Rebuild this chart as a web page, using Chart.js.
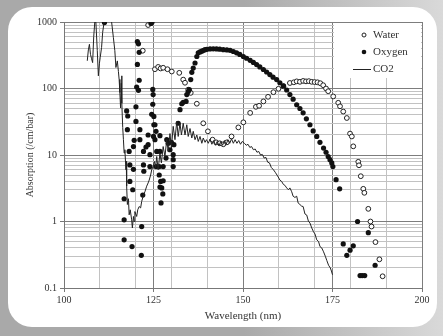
<!DOCTYPE html>
<html>
<head>
<meta charset="utf-8">
<script src="https://cdn.jsdelivr.net/npm/chart.js@4/dist/chart.umd.min.js"></script>
<style>
  body { margin: 0; width: 443px; height: 336px; overflow: hidden;
         background: linear-gradient(to right, #a9a9a9 55%, #d9d9d9 100%); }
  #panel { position: absolute; left: 8px; top: 7px; width: 429px; height: 320px;
           background: #fff; border-radius: 24px; }
  #chart { position: absolute; left: 0; top: 0; }
</style>
</head>
<body>
<div id="panel"></div>
<canvas id="chart" width="443" height="336"></canvas>
<script>
// tick positions
const xTicks = [100, 110, 120, 125, 130, 140, 150, 160, 170, 175, 180, 190, 200];
const yTicks = [0.1, 0.2, 0.3, 0.4, 0.5, 0.6, 0.7, 0.8, 0.9,
  1, 2, 3, 4, 5, 6, 7, 8, 9,
  10, 20, 30, 40, 50, 60, 70, 80, 90,
  100, 200, 300, 400, 500, 600, 700, 800, 900, 1000];
const yTickLabels = { 0.1: "0.1", 1: "1", 10: "10", 100: "100", 1000: "1000" };

// Water (open circles)
const waterX = [122.0, 123.5, 125.4, 126.3, 127.0, 127.7, 128.9, 130.1, 132.2, 133.3, 133.8, 134.7, 135.4,
  137.1, 138.9, 140.2, 141.5, 142.5, 143.5, 144.5, 145.5, 146.8, 148.7, 150.1, 152.0, 153.6, 154.5,
  155.7, 157.0, 158.5, 159.9, 161.3, 163.1, 164.2, 165.0, 165.9, 166.8, 167.6, 168.4, 169.2, 170.0,
  170.8, 171.6, 172.4, 173.2, 173.8, 175.2, 176.6, 177.1, 178.0, 179.0, 179.9, 180.4, 180.8, 182.2,
  182.4, 182.9, 183.6, 183.9, 185.0, 185.6, 185.9, 187.0, 188.1, 189.0];
const waterY = [370, 900, 195, 211, 200, 205, 195, 180, 172, 136, 122, 96, 86,
  59, 30, 22.7, 17, 15.5, 15, 14.5, 15.5, 19, 26, 31, 43, 53, 55,
  64, 75, 88, 99, 108, 121, 124, 128, 126, 130, 128, 129, 126, 125,
  124, 120, 112, 100, 91, 76, 61, 54, 45, 36, 21, 19, 13.5, 7.9,
  7.0, 4.8, 3.1, 2.7, 1.55, 1.0, 0.84, 0.49, 0.27, 0.15];

// Oxygen (filled dots)
const oxygenX = [111.3, 116.8, 116.8, 116.8, 117.5, 117.7, 117.8, 118.2, 118.4, 118.4, 119.0, 119.2,
  119.4, 119.4, 119.6, 120.1, 120.1, 120.3, 120.5, 120.5, 120.8, 120.8, 121.0, 121.0, 121.2, 121.2,
  121.6, 121.7, 122.0, 122.2, 122.2, 122.3, 122.9, 123.5, 123.5, 124.0, 124.0, 124.3, 124.5, 124.6,
  124.8, 124.8, 124.9, 125.0, 125.1, 125.1, 125.4, 125.4, 125.7, 125.7, 125.9, 126.6, 126.6, 126.8,
  126.8, 126.8, 127.0, 127.1, 127.3, 127.6, 127.7, 127.7, 128.5, 128.7, 129.1, 129.6, 130.0, 130.5,
  130.5, 130.5, 130.7, 131.9, 132.4, 132.9, 133.3, 134.1, 134.3, 134.7, 135.0, 135.4, 135.7, 136.1,
  136.6, 137.1, 137.5, 138.0, 138.5, 139.0, 139.4, 139.9, 140.8, 141.7, 142.6, 143.5, 144.5, 145.5,
  146.4, 147.3, 148.2, 149.1, 150.1, 151.0, 152.0, 152.9, 153.8, 154.7, 155.7, 156.6, 157.5, 158.4,
  159.4, 160.3, 161.3, 162.2, 163.1, 164.0, 165.0, 165.9, 166.8, 167.7, 168.7, 169.6, 170.6, 171.5,
  172.5, 173.2, 173.8, 174.3, 174.8, 175.1, 176.0, 177.0,
  178.0, 179.0, 179.9, 180.8, 182.0, 182.7, 183.3, 184.0, 185.0, 186.9];
const oxygenY = [980, 2.2, 1.06, 0.53, 46, 24, 38.6, 11.3, 7.1, 4.0, 0.42, 3.0,
  13.4, 6.1, 16.6, 53, 32, 105, 508, 230, 470, 94, 350, 133, 24, 17,
  0.31, 0.84, 2.5, 11.3, 7.1, 5.7, 13.2, 20, 14.3, 10.1, 6.7, 950, 41, 1000,
  97, 58, 81, 19, 38, 28.5, 17, 28.5, 22.7, 6.7, 11.3, 6.7, 5.0, 19.5,
  11.3, 3.3, 4.0, 1.9, 3.2, 2.6, 6.7, 4.1, 9, 17, 15, 12, 15.5, 10.1,
  8.5, 6.7, 14.3, 30, 48, 59, 62, 64, 81, 90, 96, 136, 175, 203,
  242, 303, 344, 355, 364, 375, 384, 388, 393, 395, 393, 390, 384, 380,
  375, 360, 344, 325, 303, 285, 265, 247, 229, 211, 193, 177, 162, 148,
  136, 122, 110, 95, 81, 69, 57, 50, 43, 35, 28.5, 23, 19, 15.5,
  12.7, 11, 9.5, 8.5, 7.6, 6.7, 4.25, 3.1,
  0.46, 0.31, 0.37, 0.43, 1.0, 0.154, 0.154, 0.154, 0.68, 0.22];

// CO2 (line)
const co2X = [106.5, 106.8, 107.1, 107.4, 107.7, 108.0, 108.3, 108.6, 108.9, 109.3, 109.6, 109.9, 110.1,
  110.5, 110.8, 111.2, 111.8, 112.5, 113.3, 113.8, 114.2, 114.5, 114.9, 115.2, 115.4, 115.6, 115.8,
  116.0, 116.1, 116.2, 116.4, 116.6, 116.8, 117.0, 117.3, 117.4, 117.5, 117.7, 118.0, 118.2, 118.5,
  118.9, 119.1, 119.4, 119.6, 119.8, 120.3, 120.6, 121.0, 121.4, 121.7, 122.2, 122.6, 123.1, 123.5,
  123.8, 124.2, 124.5, 124.9, 125.3, 125.6, 125.9, 126.3, 126.8, 127.2, 127.7, 128.2, 128.7, 129.1,
  129.6, 130.0, 130.5, 131.0, 131.5, 131.9, 132.4, 132.8, 133.3, 133.8, 134.3, 134.7, 135.2, 135.7,
  136.1, 136.6, 137.1, 137.5, 138.0, 138.5, 138.9, 139.4, 139.8, 140.3, 140.8, 141.3, 141.8, 142.3,
  142.8, 143.3, 143.8, 144.3, 144.8, 145.3, 145.8, 146.3, 146.8, 147.3, 147.8, 148.3, 148.8, 149.3,
  149.8, 150.4, 150.9, 151.4, 151.9, 152.4, 152.9, 153.4, 153.9, 154.4, 154.9, 155.4, 155.9, 156.4,
  156.9, 157.4, 157.9, 158.5, 159.0, 159.5, 160.0, 160.3, 160.8, 161.3, 161.7, 162.2, 162.7, 163.1,
  163.6, 164.0, 164.5, 165.0, 165.4, 165.9, 166.4, 166.8, 167.3, 167.8, 168.3, 168.7, 169.2, 169.7,
  170.1, 170.6, 171.1, 171.5, 172.0, 172.5, 173.0, 173.4, 173.9, 174.4, 174.7, 175.0];
const co2Y = [261, 380, 462, 326, 280, 245, 600, 1000, 1000, 370, 155, 240, 290,
  415, 700, 1000, 1500, 1400, 1000, 580, 370, 207, 260, 180, 137, 87, 51,
  120, 155, 60, 26, 17, 10.7, 12, 6, 8, 3.4, 1.8, 2.2, 1.26, 1.5,
  1.06, 0.8, 1.19, 1.0, 1.41, 1.19, 1.5, 1.68, 1.6, 2.0, 2.5, 2.8, 3.4, 3.8,
  4.2, 5.0, 6.0, 6.7, 8, 6.5, 9.5, 6, 10.7, 7.6, 13.4, 9.5, 17, 11.3,
  21, 12.7, 27, 17, 32, 19, 30, 20, 30, 20, 28.5, 19, 25, 18,
  22.7, 17, 20, 16, 19, 15, 18, 15.5, 17, 15, 17.4, 14.5, 16.5, 14,
  16, 13.8, 16, 14, 16.5, 14.5, 17, 15, 17.5, 15, 17, 15, 16.5, 14.5,
  16, 15, 14, 14.5, 13, 13.4, 12, 12.3, 11, 11.3, 10, 10.2, 9, 9.2,
  7.8, 7.6, 6.5, 6.0, 5.5, 5.0, 4.5, 4.2, 4.0, 3.6, 3.5, 3.2, 3.0, 3.2,
  2.8, 2.4, 2.3, 2.4, 1.9, 1.8, 1.7, 1.68, 1.3, 1.25, 1.0, 0.95, 0.8, 0.7,
  0.65, 0.53, 0.5, 0.42, 0.4, 0.35, 0.3, 0.26, 0.22, 0.2, 0.18, 0.158];

const toPoints = (xs, ys) => xs.map((x, i) => ({ x: x, y: ys[i] }));
const serif = "'Liberation Serif', 'DejaVu Serif', serif";
const textColor = "#333";
const majorGrid = "#7d7d7d";
const minorGrid = "#c2c2c2";

// legend in the upper right corner, drawn over the grid
const legendBox = {
  id: "legendBox",
  beforeDatasetsDraw(chart) {
    const { ctx, chartArea } = chart;
    const x0 = chartArea.right - 88, y0 = chartArea.top + 1;
    ctx.save();
    ctx.fillStyle = "#fff";
    ctx.fillRect(x0, y0, 87, 55);
    ctx.font = "11px " + serif;
    ctx.fillStyle = textColor;
    ctx.textBaseline = "middle";
    ctx.fillText("Water", x0 + 39, y0 + 12);
    ctx.fillText("Oxygen", x0 + 39, y0 + 29);
    ctx.fillText("CO2", x0 + 39, y0 + 46);
    ctx.strokeStyle = "#222";
    ctx.lineWidth = 1;
    ctx.beginPath();
    ctx.arc(x0 + 30, y0 + 12, 2, 0, Math.PI * 2);
    ctx.stroke();
    ctx.fillStyle = "#111";
    ctx.beginPath();
    ctx.arc(x0 + 30, y0 + 29, 2.3, 0, Math.PI * 2);
    ctx.fill();
    ctx.beginPath();
    ctx.moveTo(x0 + 19, y0 + 46.5);
    ctx.lineTo(x0 + 37, y0 + 46.5);
    ctx.stroke();
    ctx.restore();
  }
};

new Chart(document.getElementById("chart"), {
  type: "scatter",
  data: {
    datasets: [
      {
        label: "CO2",
        data: toPoints(co2X, co2Y),
        showLine: true,
        borderColor: "#222",
        borderWidth: 1,
        pointRadius: 0,
        tension: 0
      },
      {
        label: "Oxygen",
        data: toPoints(oxygenX, oxygenY),
        pointRadius: 2.6,
        pointBackgroundColor: "#111",
        pointBorderColor: "#111",
        pointBorderWidth: 0
      },
      {
        label: "Water",
        data: toPoints(waterX, waterY),
        pointRadius: 2.4,
        pointBackgroundColor: "#fff",
        pointBorderColor: "#222",
        pointBorderWidth: 1
      }
    ]
  },
  options: {
    responsive: false,
    animation: false,
    layout: { padding: { top: 22, right: 21, left: 0, bottom: 0 } },
    plugins: { legend: { display: false }, tooltip: { enabled: false } },
    scales: {
      x: {
        type: "linear",
        min: 100,
        max: 200,
        afterBuildTicks: s => { s.ticks = xTicks.map(v => ({ value: v })); },
        afterFit: s => { s.height = 48; },
        ticks: {
          autoSkip: false,
          maxRotation: 0,
          padding: 2,
          color: textColor,
          font: { family: serif, size: 10 },
          callback: v => (v % 25 === 0 ? String(v) : "")
        },
        grid: {
          color: c => (c.tick && c.tick.value % 25 === 0 ? majorGrid : minorGrid),
          tickColor: c => (c.tick && c.tick.value % 25 === 0 ? "#777" : "rgba(0,0,0,0)"),
          tickLength: 4
        },
        border: { color: "#777" },
        title: {
          display: true,
          text: "Wavelength (nm)",
          color: textColor,
          font: { family: serif, size: 11 },
          padding: { top: 0, bottom: 13 }
        }
      },
      y: {
        type: "logarithmic",
        min: 0.1,
        max: 1000,
        afterBuildTicks: s => { s.ticks = yTicks.map(v => ({ value: v })); },
        afterFit: s => { s.width = 64; },
        ticks: {
          autoSkip: false,
          padding: 3,
          color: textColor,
          font: { family: serif, size: 10 },
          callback: v => yTickLabels[v] || ""
        },
        grid: {
          color: c => (c.tick && yTickLabels[c.tick.value] ? majorGrid : minorGrid),
          tickColor: c => (c.tick && yTickLabels[c.tick.value] ? "#777" : "rgba(0,0,0,0)"),
          tickLength: 4
        },
        border: { color: "#777" },
        title: {
          display: true,
          text: "Absorption (/cm/bar)",
          color: textColor,
          font: { family: serif, size: 10 },
          padding: { top: 24, bottom: 0 }
        }
      }
    }
  },
  plugins: [legendBox]
});
</script>
</body>
</html>
